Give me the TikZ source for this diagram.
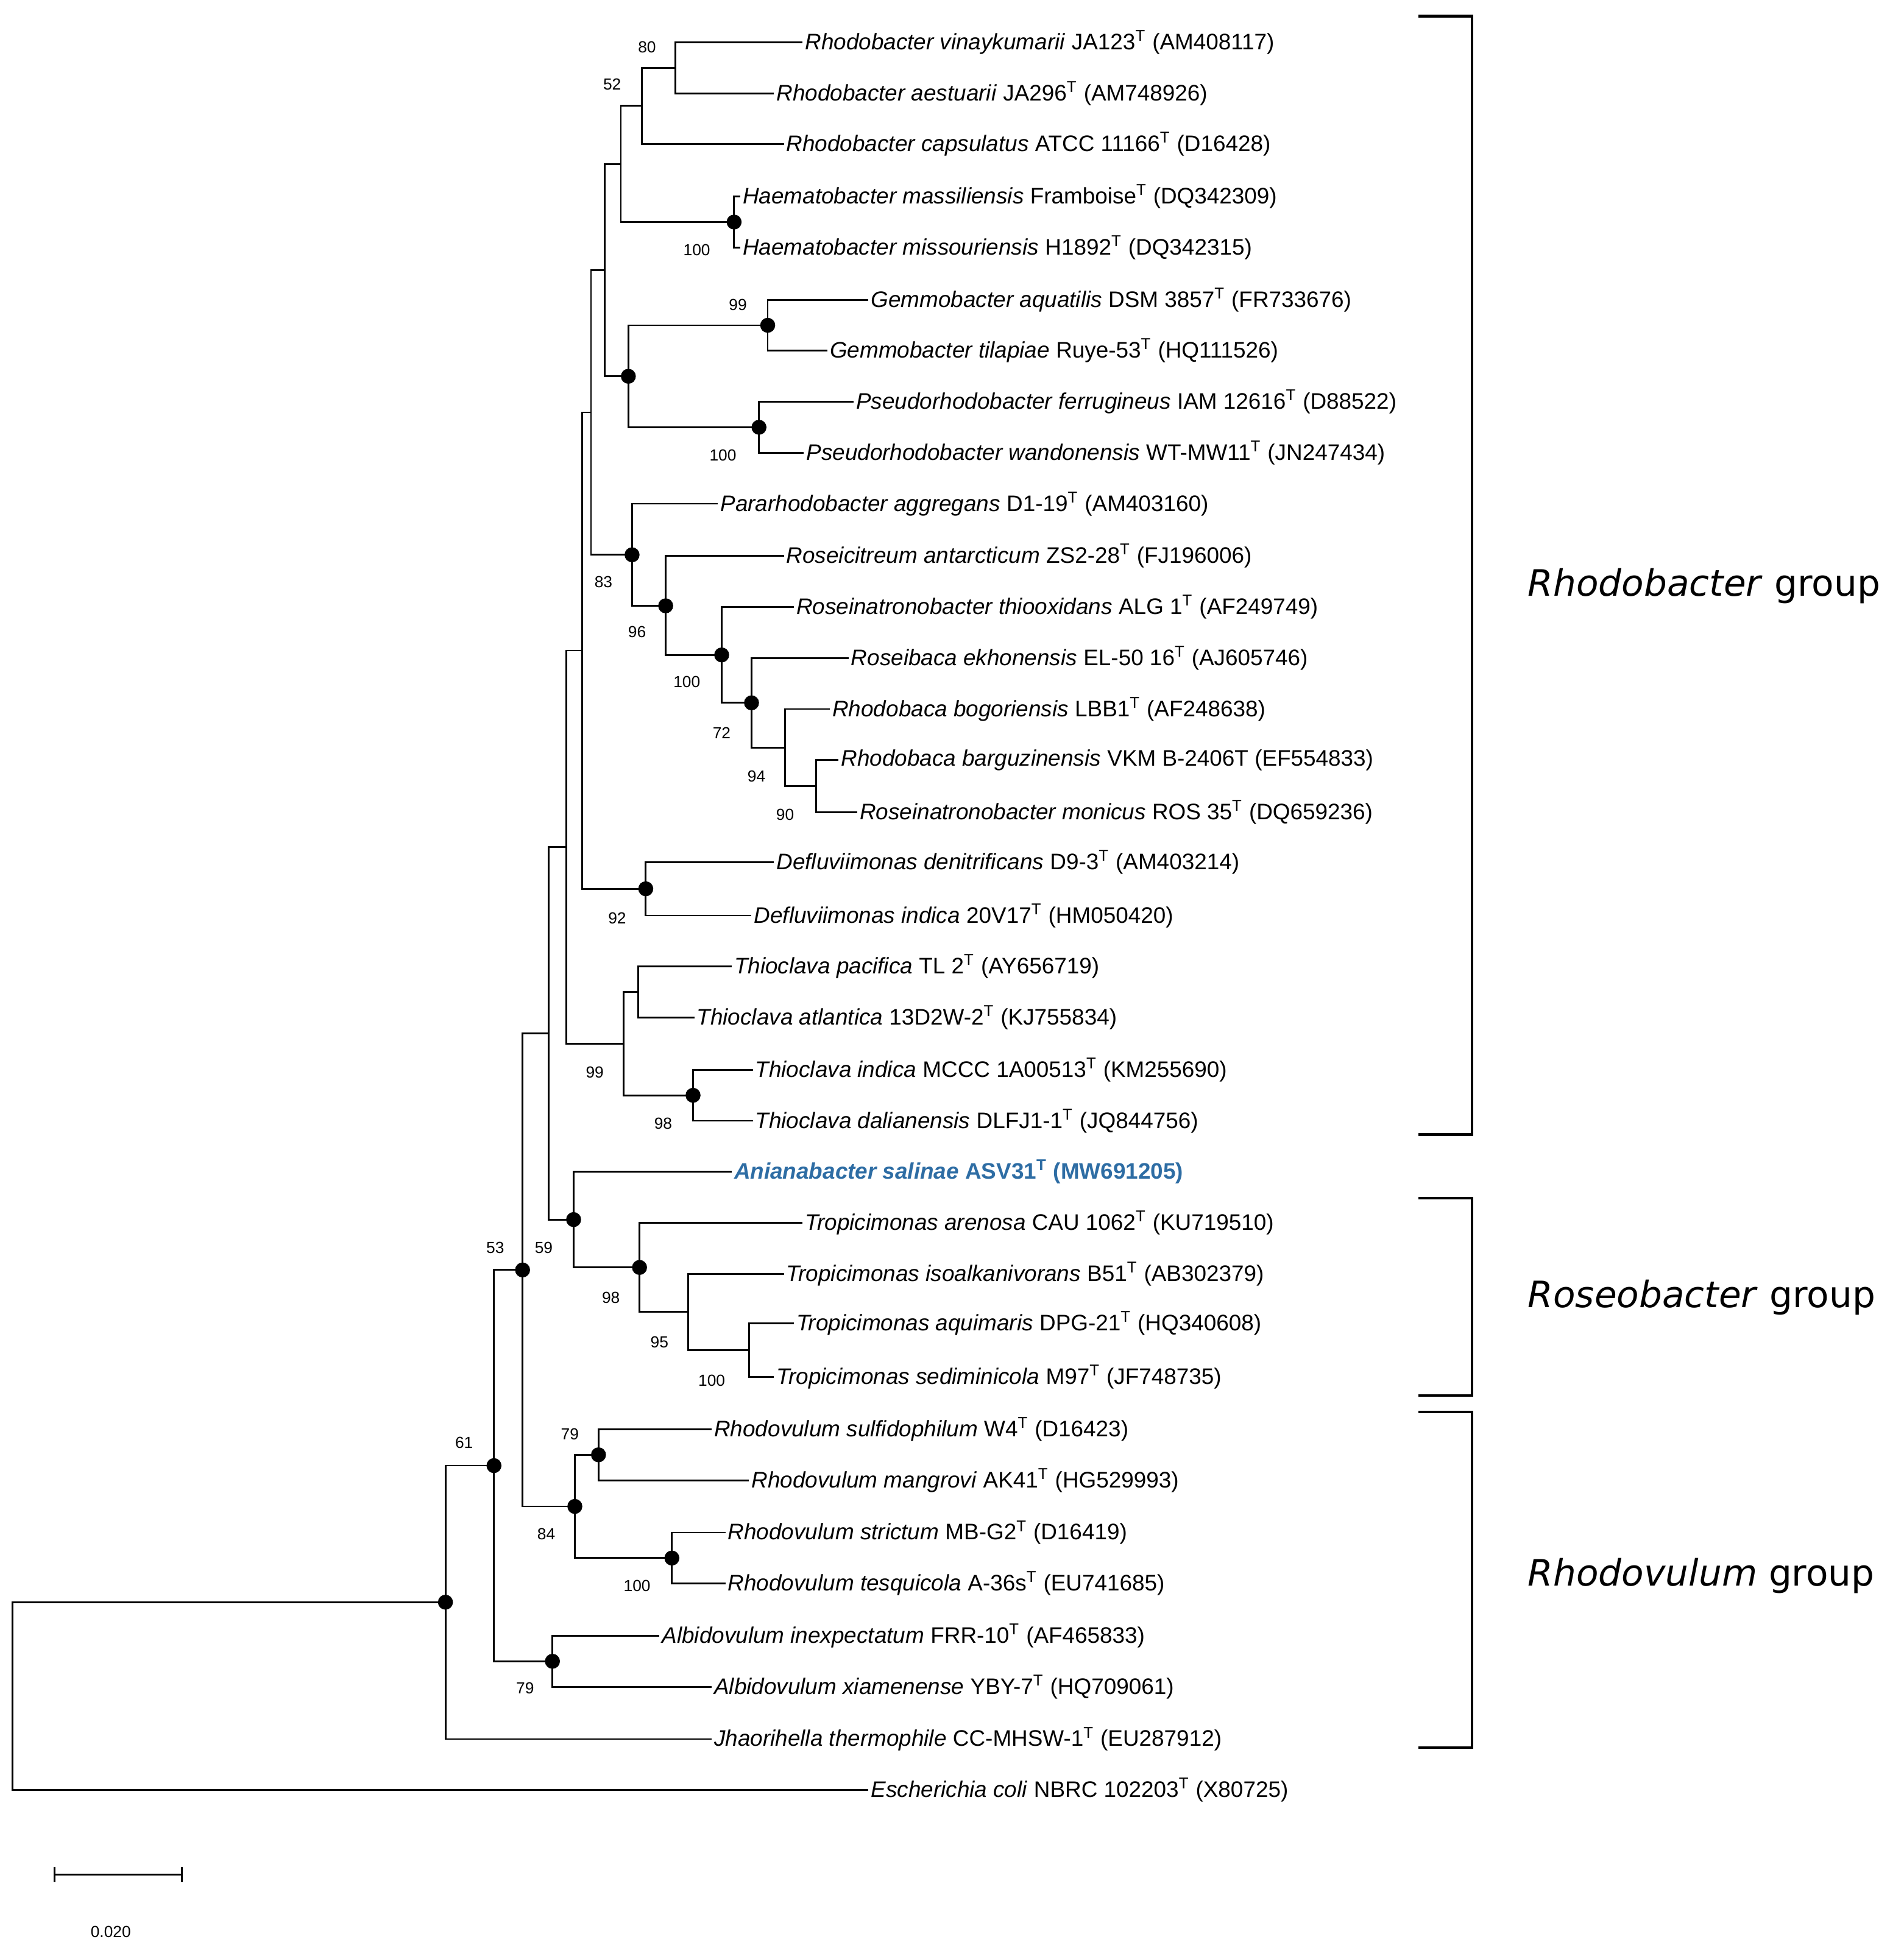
\documentclass[tikz,border=0pt]{standalone}
\usepackage{fontspec}
\setmainfont{Liberation Sans}
\newfontfamily\grpfont{DejaVu Sans}
\usepackage{xcolor}
\definecolor{newsp}{HTML}{2E6DA4}
\begin{document}
\begin{tikzpicture}[x=0.020425cm, y=-0.020425cm,
        branch/.style={line width=0.8pt, black},
        taxon/.style={anchor=west, inner sep=1pt, font=\fontsize{10.5}{12}\selectfont},
        boot/.style={inner sep=0pt, font=\fontsize{7.5}{9}\selectfont},
        dot/.style={circle, fill=black, inner sep=0pt, minimum size=7pt},
        bracket/.style={line width=1.2pt},
        grp/.style={anchor=west, font=\grpfont\fontsize{17}{20}\selectfont}
    ]
    \useasboundingbox (0,0) rectangle (1530,1566);

    % Leaves
    \foreach \n/\y/\x/\t in {
        1/34/645/{\textit{Rhodobacter vinaykumarii} JA123\textsuperscript{T} (AM408117)},
        2/75/622/{\textit{Rhodobacter aestuarii} JA296\textsuperscript{T} (AM748926)},
        3/116/630/{\textit{Rhodobacter capsulatus} ATCC 11166\textsuperscript{T} (D16428)},
        4/158/595/{\textit{Haematobacter massiliensis} Framboise\textsuperscript{T} (DQ342309)},
        5/199/595/{\textit{Haematobacter missouriensis} H1892\textsuperscript{T} (DQ342315)},
        6/241/698/{\textit{Gemmobacter aquatilis} DSM 3857\textsuperscript{T} (FR733676)},
        7/282/665/{\textit{Gemmobacter tilapiae} Ruye-53\textsuperscript{T} (HQ111526)},
        8/323/686/{\textit{Pseudorhodobacter ferrugineus} IAM 12616\textsuperscript{T} (D88522)},
        9/364/646/{\textit{Pseudorhodobacter wandonensis} WT-MW11\textsuperscript{T} (JN247434)},
        10/405/577/{\textit{Pararhodobacter aggregans} D1-19\textsuperscript{T} (AM403160)},
        11/447/630/{\textit{Roseicitreum antarcticum} ZS2-28\textsuperscript{T} (FJ196006)},
        12/488/638/{\textit{Roseinatronobacter thiooxidans} ALG 1\textsuperscript{T} (AF249749)},
        13/529/682/{\textit{Roseibaca ekhonensis} EL-50 16\textsuperscript{T} (AJ605746)},
        14/570/667/{\textit{Rhodobaca bogoriensis} LBB1\textsuperscript{T} (AF248638)},
        15/611/674/{\textit{Rhodobaca barguzinensis} VKM B-2406T (EF554833)},
        16/653/689/{\textit{Roseinatronobacter monicus} ROS 35\textsuperscript{T} (DQ659236)},
        17/693/622/{\textit{Defluviimonas denitrificans} D9-3\textsuperscript{T} (AM403214)},
        18/736/604/{\textit{Defluviimonas indica} 20V17\textsuperscript{T} (HM050420)},
        19/777/588/{\textit{Thioclava pacifica} TL 2\textsuperscript{T} (AY656719)},
        20/818/558/{\textit{Thioclava atlantica} 13D2W-2\textsuperscript{T} (KJ755834)},
        21/860/605/{\textit{Thioclava indica} MCCC 1A00513\textsuperscript{T} (KM255690)},
        22/901/605/{\textit{Thioclava dalianensis} DLFJ1-1\textsuperscript{T} (JQ844756)},
        23/942/588/{\color{newsp}\bfseries\textit{Anianabacter salinae} ASV31\textsuperscript{T} (MW691205)},
        24/983/645/{\textit{Tropicimonas arenosa} CAU 1062\textsuperscript{T} (KU719510)},
        25/1024/630/{\textit{Tropicimonas isoalkanivorans} B51\textsuperscript{T} (AB302379)},
        26/1064/638/{\textit{Tropicimonas aquimaris} DPG-21\textsuperscript{T} (HQ340608)},
        27/1107/622/{\textit{Tropicimonas sediminicola} M97\textsuperscript{T} (JF748735)},
        28/1149/572/{\textit{Rhodovulum sulfidophilum} W4\textsuperscript{T} (D16423)},
        29/1190/602/{\textit{Rhodovulum mangrovi} AK41\textsuperscript{T} (HG529993)},
        30/1232/583/{\textit{Rhodovulum strictum} MB-G2\textsuperscript{T} (D16419)},
        31/1273/583/{\textit{Rhodovulum tesquicola} A-36s\textsuperscript{T} (EU741685)},
        32/1315/530/{\textit{Albidovulum inexpectatum} FRR-10\textsuperscript{T} (AF465833)},
        33/1356/572/{\textit{Albidovulum xiamenense} YBY-7\textsuperscript{T} (HQ709061)},
        34/1398/572/{\textit{Jhaorihella thermophile} CC-MHSW-1\textsuperscript{T} (EU287912)},
        35/1439/698/{\textit{Escherichia coli} NBRC 102203\textsuperscript{T} (X80725)}}
        \node[taxon] (l\n) at (\x,\y) {\t};

    % Internal nodes
    \foreach \n/\x/\y in {a/543/54.5, b/516/85, c/590/178.5, d/499/132,
        e/617/261.5, f/610/343.5, g/505/302.5, h/486/217,
        i/656/632, j/631/601, k/604/565, l/580/526.5, m/535/487, n/508/446,
        o/475/331.5, p/519/714.5, q/513/797.5, r/557/880.5, s/501/839,
        t/468/523, u/455/681, v/602/1085.5, w/553/1054.7, x/514/1018.9,
        y/461/980.4, z/441/830.7, aa/481/1169.5, ab/540/1252.5, ac/462/1211,
        ad/420/1020.9, ae/444/1335.5, af/397/1178.2, ag/358/1288, root/10/1363.6}
        \coordinate (\n) at (\x,\y);

    % Branches
    \foreach \p/\c in {a/l1.west, a/l2.west, b/a, b/l3.west, c/l4.west, c/l5.west,
        d/b, d/c, e/l6.west, e/l7.west, f/l8.west, f/l9.west, g/e, g/f, h/d, h/g,
        i/l15.west, i/l16.west, j/l14.west, j/i, k/l13.west, k/j, l/l12.west, l/k,
        m/l11.west, m/l, n/l10.west, n/m, o/h, o/n, p/l17.west, p/l18.west,
        q/l19.west, q/l20.west, r/l21.west, r/l22.west, s/q, s/r, t/o, t/p, u/t, u/s,
        v/l26.west, v/l27.west, w/l25.west, w/v, x/l24.west, x/w, y/l23.west, y/x,
        z/u, z/y, aa/l28.west, aa/l29.west, ab/l30.west, ab/l31.west, ac/aa, ac/ab,
        ad/z, ad/ac, ae/l32.west, ae/l33.west, af/ad, af/ae, ag/af, ag/l34.west,
        root/ag, root/l35.west}
        \draw[branch] (\p) |- (\c);

    % Supported nodes
    \foreach \n in {c,e,f,g,k,l,m,n,p,r,x,y,aa,ab,ac,ad,ae,af,ag}
        \node[dot] at (\n) {};

    % Bootstrap values
    \foreach \x/\y/\v in {520/38/80, 492/68/52, 560/201/100, 593/245/99, 581/366/100,
        631/655/90, 608/624/94, 580/589/72, 552/548/100, 512/508/96, 485/468/83,
        496/738/92, 533/903/98, 478/862/99, 572/1110/100, 530/1079/95, 491/1043/98,
        437/1003/59, 458/1153/79, 512/1275/100, 439/1233/84, 398/1003/53,
        422/1357/79, 373/1160/61}
        \node[boot] at (\x,\y) {\v};

    % Group brackets
    \draw[bracket] (1140,13) -- (1183,13) -- (1183,912) -- (1140,912);
    \draw[bracket] (1140,963) -- (1183,963) -- (1183,1122) -- (1140,1122);
    \draw[bracket] (1140,1135) -- (1183,1135) -- (1183,1405) -- (1140,1405);
    \node[grp] (g1) at (1222,471) {\textit{Rhodobacter} group};
    \node[grp] (g2) at (1222,1043) {\textit{Roseobacter} group};
    \node[grp] (g3) at (1222,1267) {\textit{Rhodovulum} group};

    % Scale bar
    \coordinate (s1) at (44,1507);
    \coordinate (s2) at (146,1507);
    \draw[branch] (s1) -- (s2);
    \draw[branch] (s1) ++(0,-6) -- ++(0,12);
    \draw[branch] (s2) ++(0,-6) -- ++(0,12);
    \node[boot] (scale) at (89,1553) {0.020};
\end{tikzpicture}
\end{document}
